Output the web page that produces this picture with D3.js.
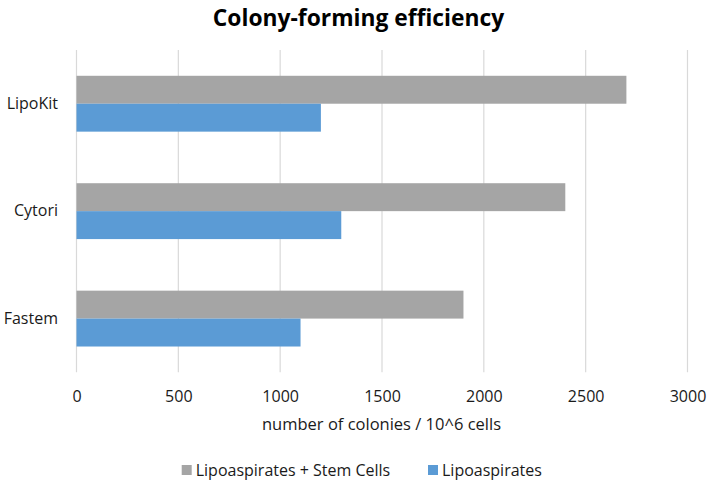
<!DOCTYPE html>
<html>
<head>
<meta charset="utf-8">
<script src="https://cdn.jsdelivr.net/npm/d3@7"></script>
<style>
  html, body { margin: 0; padding: 0; background: #fff; }
  text { font-family: "Open Sans", "Liberation Sans", sans-serif; }
</style>
</head>
<body>
<svg id="chart" width="709" height="486"></svg>
<script>
const categories = ["LipoKit", "Cytori", "Fastem"];
const seriesNames = ["Lipoaspirates + Stem Cells", "Lipoaspirates"];
const stemCells = [2700, 2400, 1900];
const lipoaspirates = [1200, 1300, 1100];
const tickValues = [0, 500, 1000, 1500, 2000, 2500, 3000];
const colors = ["#A5A5A5", "#5B9BD5"];

const svg = d3.select("#chart");
const textColor = "#1a1a1a";
const margin = { left: 76.5, right: 709 - 687.5, top: 50, bottom: 486 - 372.3 };

const x = d3.scaleLinear().domain([0, 3000]).range([margin.left, 687.5]);
const y = d3.scaleBand().domain(categories).range([margin.top, 372.3])
  .paddingInner(0.48).paddingOuter(0.24);
const sub = d3.scaleBand().domain(seriesNames).range([0, y.bandwidth()]);

// gridlines
svg.append("g").selectAll("line").data(tickValues).join("line")
  .attr("x1", d => x(d)).attr("x2", d => x(d))
  .attr("y1", margin.top).attr("y2", 372.3)
  .attr("stroke", "#D9D9D9").attr("stroke-width", 1.2);

// bars
const seriesData = [stemCells, lipoaspirates];
seriesData.forEach((vals, si) => {
  svg.append("g").selectAll("rect").data(categories).join("rect")
    .attr("x", x(0))
    .attr("y", c => y(c) + sub(seriesNames[si]))
    .attr("width", (c, i) => x(vals[i]) - x(0))
    .attr("height", sub.bandwidth())
    .attr("fill", colors[si]);
});

// x axis tick labels
const xAxis = d3.axisBottom(x).tickValues(tickValues).tickFormat(d3.format("d")).tickSize(0).tickPadding(0);
const gx = svg.append("g").attr("transform", "translate(0,391)").call(xAxis);
gx.select(".domain").remove();
gx.selectAll("text").attr("font-size", 16).attr("fill", textColor)
  .style("font-family", "'Open Sans', sans-serif").attr("dy", "0.71em");

// y axis labels
const yAxis = d3.axisLeft(y).tickSize(0).tickPadding(0);
const gy = svg.append("g").attr("transform", "translate(58,0)").call(yAxis);
gy.select(".domain").remove();
gy.selectAll("text").attr("font-size", 16).attr("fill", textColor)
  .style("font-family", "'Open Sans', sans-serif");

// title
svg.append("text").attr("x", 358.5).attr("y", 26).attr("text-anchor", "middle")
  .attr("font-size", 22.8).attr("font-weight", "bold").attr("fill", "#000")
  .text("Colony-forming efficiency");

// axis title
svg.append("text").attr("x", 381.5).attr("y", 430).attr("text-anchor", "middle")
  .attr("font-size", 16.5).attr("fill", textColor)
  .text("number of colonies / 10^6 cells");

// legend
const legendX = [181.7, 428];
seriesNames.forEach((name, i) => {
  const g = svg.append("g").attr("transform", `translate(${legendX[i]},0)`);
  g.append("rect").attr("x", 0).attr("y", 465).attr("width", 10).attr("height", 10).attr("fill", colors[i]);
  g.append("text").attr("x", 14).attr("y", 476).attr("font-size", 16).attr("fill", textColor).text(name);
});
</script>
</body>
</html>
